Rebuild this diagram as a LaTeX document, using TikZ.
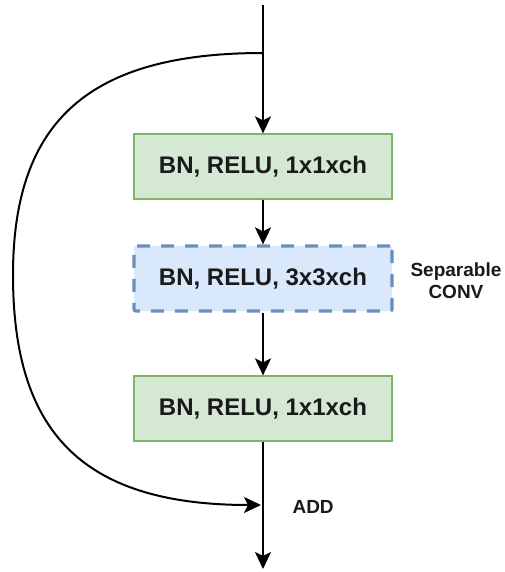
\documentclass[tikz,border=0pt]{standalone}
\usepackage{fontspec}
\setmainfont{Liberation Sans}
\usetikzlibrary{arrows.meta}
\definecolor{gfill}{HTML}{D5E8D4}
\definecolor{gline}{HTML}{82B366}
\definecolor{bfill}{HTML}{DAE8FC}
\definecolor{bline}{HTML}{6C8EBF}
\definecolor{ink}{HTML}{1A1A1A}
\tikzset{
  layer/.style={draw=gline, fill=gfill, line width=1.2pt, minimum width=258pt,
    minimum height=65pt, inner sep=0pt, text=ink,
    font=\fontsize{24}{28}\selectfont\bfseries},
  seplayer/.style={layer, draw=bline, fill=bfill, line width=3.2pt,
    dash pattern=on 13pt off 11pt, rounded corners=2pt},
  flow/.style={line width=2pt, -{Stealth[length=17pt,width=16pt,inset=4pt]}},
  note/.style={text=ink, align=center, font=\fontsize{19}{22}\selectfont\bfseries}
}
\begin{document}
\begin{tikzpicture}[x=1pt,y=-1pt]
  \useasboundingbox (0,0) rectangle (505,572);
  % main path
  \coordinate (in) at (263,5);
  \coordinate (split) at (263,53);
  \node[layer] (c1) at (263,166.5) {BN, RELU, 1x1xch};
  \node[seplayer] (c2) at (263,278.5) {BN, RELU, 3x3xch};
  \node[layer] (c3) at (263,408.5) {BN, RELU, 1x1xch};
  \coordinate (add) at (261,505);
  \coordinate (out) at (263,569);
  \node[note, anchor=west] (sep) at (407,281) {Separable\\CONV};
  \node[note, anchor=west] (addlbl) at (289,507) {ADD};
  \draw[flow] (in) -- (c1.north);
  \draw[flow] (c1.south) -- (c2.north);
  \draw[flow] (c2.south) -- (c3.north);
  \draw[flow] (c3.south) -- (out);
  % skip connection
  \coordinate (far) at (13,275);
  \draw[flow] (split) .. controls (90,53) and (13,120) .. (far)
     .. controls (13,430) and (80,505) .. (add);
\end{tikzpicture}
\end{document}
